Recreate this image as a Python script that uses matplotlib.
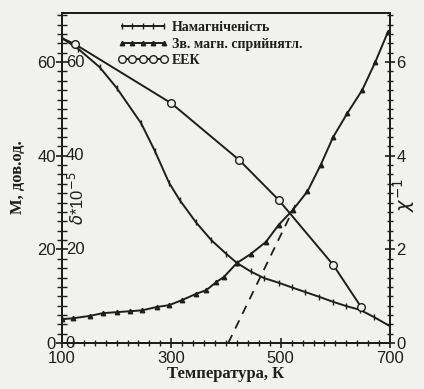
import numpy as np
import matplotlib
matplotlib.use("Agg")
import matplotlib.pyplot as plt
from matplotlib.ticker import MultipleLocator

# magnetization, left axis
T_mag = [100, 130, 169, 200, 245, 270, 296, 315, 345, 373, 400, 420, 445,
         469, 496, 520, 545, 570, 596, 620, 645, 670, 700]
M_mag = [65.1, 62.8, 58.9, 54.5, 46.9, 41.0, 34.2, 30.6, 25.8, 22.0, 19.1,
         17.1, 15.3, 13.9, 12.9, 11.9, 10.9, 9.9, 8.8, 7.9, 7.1, 5.6, 3.6]

# inverse susceptibility, right axis
T_chi = [100, 120, 151, 175, 200, 224, 247, 273, 296, 320, 345, 364, 382,
         396, 420, 445, 473, 496, 522, 549, 573, 596, 622, 649, 673, 696]
chi_inv = [0.51, 0.53, 0.58, 0.64, 0.66, 0.68, 0.70, 0.77, 0.81, 0.92, 1.05,
           1.13, 1.30, 1.41, 1.71, 1.90, 2.16, 2.52, 2.84, 3.24, 3.80, 4.40,
           4.91, 5.40, 6.00, 6.64]

# Curie-Weiss extrapolation
T_cw = [404, 527]
chi_cw = [0.0, 2.95]

# EEK, left axis
T_eek = [100, 124, 300, 424, 496, 596, 647]
eek = [65.1, 63.8, 51.2, 39.1, 30.6, 16.7, 7.7]

labels = ["Намагнiченiсть", "Зв. магн. сприйнятл.", "ЕЕК"]
left_ticks = [0, 20, 40, 60]
right_ticks = [0, 2, 4, 6]
x_ticks = [100, 300, 500, 700]

bg = "#f1f1ef"
ink = "#1e1e1e"

fig = plt.figure(figsize=(4.24, 3.89), dpi=100, facecolor=bg)
ax = fig.add_axes([0.146, 0.118, 0.774, 0.849], facecolor=bg)
ax2 = ax.twinx()

l1, = ax.plot(T_mag, M_mag, color=ink, lw=1.4, marker="|", ms=5, mew=1.0)
l2, = ax2.plot(T_chi, chi_inv, color=ink, lw=1.4, marker="^", ms=3.2)
ax2.plot(T_cw, chi_cw, color=ink, lw=1.3, ls=(0, (5, 4)))
l3, = ax.plot(T_eek, eek, color=ink, lw=1.4, marker="o", ms=5.5,
              mfc=bg, mew=1.0, markevery=list(range(1, len(T_eek))))

ax.set_xlim(100, 700)
ax.set_ylim(0, 70.5)
ax2.set_ylim(0, 7.05)

ax.set_xticks(x_ticks)
ax.xaxis.set_minor_locator(MultipleLocator(20))
ax.set_yticks(left_ticks)
ax.yaxis.set_minor_locator(MultipleLocator(2))
ax2.set_yticks(right_ticks)
ax2.yaxis.set_minor_locator(MultipleLocator(0.2))

for a in (ax, ax2):
    for s in a.spines.values():
        s.set_linewidth(1.4)
        s.set_color(ink)

ax.tick_params(axis="x", which="major", direction="inout", length=7, width=1.2,
               labelsize=12, pad=2.5, colors=ink)
ax.tick_params(axis="x", which="minor", direction="inout", length=5, width=1.0,
               colors=ink)
ax.tick_params(axis="y", which="major", direction="inout", length=9, width=1.2,
               labelsize=12, pad=0, colors=ink)
ax.tick_params(axis="y", which="minor", direction="inout", length=7, width=1.0,
               colors=ink)
ax2.tick_params(axis="y", which="major", direction="inout", length=7, width=1.2,
                labelsize=12, pad=1, colors=ink)
ax2.tick_params(axis="y", which="minor", direction="inout", length=5, width=1.0,
                colors=ink)

for lab in ax.get_xticklabels() + ax.get_yticklabels() + ax2.get_yticklabels():
    lab.set_family("Liberation Sans")

# inner labels of the delta scale
for v in left_ticks:
    ax.text(0.012, v, str(v), transform=ax.get_yaxis_transform(),
            ha="left", va="center", fontsize=12, family="Liberation Sans",
            color=ink)

ax.set_xlabel("Температура, К", fontsize=12, family="Liberation Serif",
              fontweight="bold", labelpad=0, color=ink)
fig.text(0.042, 0.545, "М, дов.од.", rotation=90, ha="center", va="center",
         fontsize=12, family="Liberation Serif", fontweight="bold", color=ink)
fig.text(0.182, 0.49, r"$\delta$*10$^{-5}$", rotation=90, ha="center",
         va="center", fontsize=12, family="Liberation Sans", color=ink)
fig.text(0.952, 0.50, r"$\chi^{-1}$", rotation=90, ha="center", va="center",
         fontsize=14, color=ink)

leg = ax.legend([l1, l2, l3], labels, loc="upper left",
                bbox_to_anchor=(0.17, 0.975), frameon=False, numpoints=5,
                handlelength=3.6, handletextpad=0.3, labelspacing=0.25,
                borderpad=0, borderaxespad=0,
                prop={"family": "Liberation Serif", "weight": "bold",
                      "size": 10})
for t in leg.get_texts():
    t.set_color(ink)

fig.savefig("out.png", dpi=100, facecolor=bg)
